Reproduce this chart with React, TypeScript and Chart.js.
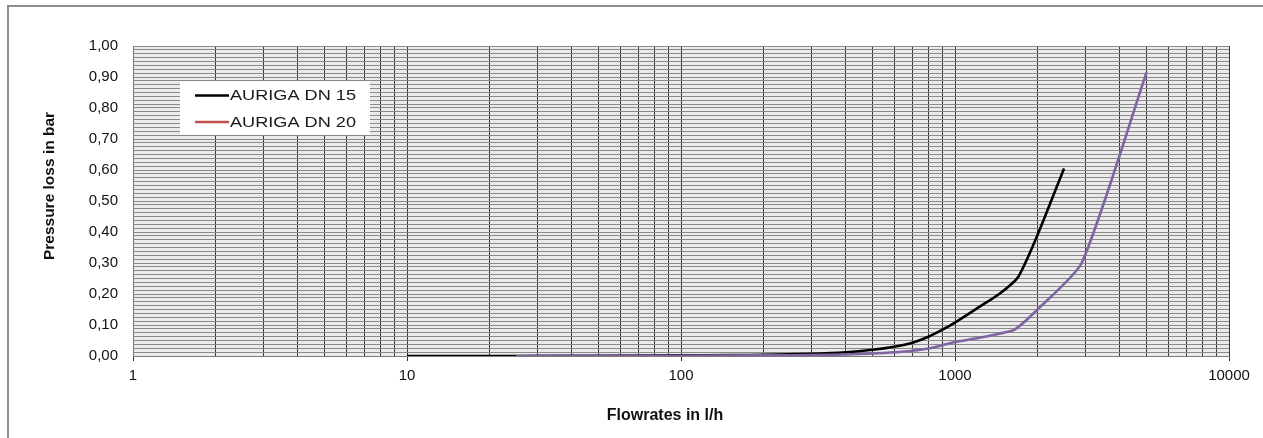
import React, { useEffect, useRef } from "react";
import { Chart, registerables } from "chart.js";

Chart.register(...registerables);

// ---- data ----
const seriesNames = ["AURIGA DN 15", "AURIGA DN 20"];

const dn15Flow = [10, 25, 50, 100, 150, 200, 300, 400, 500, 600, 700, 800, 900, 1000, 1200, 1450, 1700, 2000, 2500];
const dn15Loss = [0, 0, 0.001, 0.002, 0.003, 0.004, 0.007, 0.012, 0.02, 0.03, 0.043, 0.062, 0.085, 0.108, 0.153, 0.2, 0.255, 0.39, 0.605];

const dn20Flow = [25, 50, 100, 200, 300, 400, 500, 600, 700, 800, 900, 1000, 1200, 1450, 1650, 2000, 2900, 5000];
const dn20Loss = [0, 0, 0.001, 0.002, 0.003, 0.005, 0.008, 0.012, 0.017, 0.024, 0.035, 0.045, 0.057, 0.072, 0.085, 0.15, 0.3, 0.915];

const xGridValues = [
  1, 2, 3, 4, 5, 6, 7, 8, 9,
  10, 20, 30, 40, 50, 60, 70, 80, 90,
  100, 200, 300, 400, 500, 600, 700, 800, 900,
  1000, 2000, 3000, 4000, 5000, 6000, 7000, 8000, 9000,
  10000,
];
const xLabelValues = [1, 10, 100, 1000, 10000];
const xTickLabels = ["1", "10", "100", "1000", "10000"];

const yLabelValues = [0, 0.1, 0.2, 0.3, 0.4, 0.5, 0.6, 0.7, 0.8, 0.9, 1.0];
const yTickLabels = ["0,00", "0,10", "0,20", "0,30", "0,40", "0,50", "0,60", "0,70", "0,80", "0,90", "1,00"];
const yMinorStep = 0.0125;

const xTitle = "Flowrates in l/h";
const yTitle = "Pressure loss in bar";

const FONT = "'Liberation Sans', Arial, sans-serif";

function yGridValues(): number[] {
  const out: number[] = [];
  const n = Math.round(1 / yMinorStep);
  for (let i = 0; i <= n; i++) out.push(+(i * yMinorStep).toFixed(6));
  return out;
}

const decorPlugin = {
  id: "decor",
  beforeDraw(chart: any) {
    const { ctx, chartArea: a } = chart;
    ctx.save();
    ctx.fillStyle = "#ebebeb";
    ctx.fillRect(a.left, a.top, a.right - a.left, a.bottom - a.top);
    ctx.restore();
  },
  afterDraw(chart: any) {
    const { ctx } = chart;
    ctx.save();
    ctx.fillStyle = "#111";
    ctx.font = `bold 15.5px ${FONT}`;
    ctx.textAlign = "center";
    ctx.textBaseline = "middle";
    // y title
    ctx.save();
    ctx.translate(50, 186);
    ctx.rotate(-Math.PI / 2);
    ctx.fillText(yTitle, 0, 0);
    ctx.restore();
    // x title
    ctx.font = `bold 16px ${FONT}`;
    ctx.fillText(xTitle, 665, 416);

    // legend
    ctx.fillStyle = "#ffffff";
    ctx.fillRect(180, 81, 190, 54);
    const colors = ["#000000", "#c0504d"];
    const ys = [95.5, 122];
    for (let i = 0; i < seriesNames.length; i++) {
      ctx.strokeStyle = colors[i];
      ctx.lineWidth = 2.5;
      ctx.beginPath();
      ctx.moveTo(195, ys[i]);
      ctx.lineTo(229, ys[i]);
      ctx.stroke();
      ctx.save();
      ctx.translate(230, ys[i] + 0.5);
      ctx.scale(1.17, 1);
      ctx.fillStyle = "#1a1a1a";
      ctx.font = `15.5px ${FONT}`;
      ctx.textAlign = "left";
      ctx.textBaseline = "middle";
      ctx.fillText(seriesNames[i], 0, 0);
      ctx.restore();
    }
    ctx.restore();
  },
};

export default function App() {
  const ref = useRef<HTMLCanvasElement | null>(null);

  useEffect(() => {
    if (!ref.current) return;
    const chart = new Chart(ref.current, {
      type: "line",
      data: {
        datasets: [
          {
            label: seriesNames[1],
            data: dn20Flow.map((x, i) => ({ x, y: dn20Loss[i] })),
            borderColor: "#8064a2",
            borderWidth: 2.6,
            pointRadius: 0,
            tension: 0.2,
            fill: false,
          },
          {
            label: seriesNames[0],
            data: dn15Flow.map((x, i) => ({ x, y: dn15Loss[i] })),
            borderColor: "#000000",
            borderWidth: 2.6,
            pointRadius: 0,
            tension: 0.2,
            fill: false,
          },
        ],
      },
      options: {
        responsive: false,
        animation: false,
        devicePixelRatio: 1,
        layout: { padding: { left: 0, right: 34, top: 46, bottom: 0 } },
        plugins: { legend: { display: false }, tooltip: { enabled: false } },
        scales: {
          x: {
            type: "logarithmic",
            min: 1,
            max: 10000,
            afterBuildTicks: (s: any) => {
              s.ticks = xGridValues.map((v) => ({ value: v }));
            },
            afterFit: (s: any) => {
              s.height = 82;
            },
            ticks: {
              autoSkip: false,
              maxRotation: 0,
              minRotation: 0,
              padding: 6,
              color: "#111",
              font: { family: FONT, size: 15 },
              callback: (v: any) => {
                const k = xLabelValues.indexOf(Number(v));
                return k >= 0 ? xTickLabels[k] : "";
              },
            },
            grid: {
              color: "#383838",
              lineWidth: 1,
              tickLength: 5,
              tickColor: (c: any) =>
                xLabelValues.indexOf(c.tick ? c.tick.value : -1) >= 0 ? "#333" : "rgba(0,0,0,0)",
            },
            border: { color: "#7a7a7a", width: 1 },
          },
          y: {
            min: 0,
            max: 1,
            afterBuildTicks: (s: any) => {
              s.ticks = yGridValues().map((v) => ({ value: v }));
            },
            afterFit: (s: any) => {
              s.width = 133;
            },
            ticks: {
              autoSkip: false,
              padding: 15,
              color: "#111",
              font: { family: FONT, size: 15 },
              callback: (v: any) => {
                const k = yLabelValues.findIndex((t) => Math.abs(t - Number(v)) < 1e-6);
                return k >= 0 ? yTickLabels[k] : "";
              },
            },
            grid: { color: "#8a8a8a", lineWidth: 1, drawTicks: false },
            border: { color: "#7a7a7a", width: 1 },
          },
        },
      },
      plugins: [decorPlugin],
    } as any);
    return () => chart.destroy();
  }, []);

  return (
    <div style={{ position: "fixed", left: 0, top: 0, width: 1263, height: 438, background: "#fff", overflow: "hidden" }}>
      <canvas ref={ref} width={1263} height={438} style={{ position: "absolute", left: 0, top: 0, display: "block" }} />
      <div
        style={{
          position: "absolute",
          left: 7,
          top: 5,
          width: 1300,
          height: 500,
          border: "2px solid #8f8f8f",
          pointerEvents: "none",
        }}
      />
    </div>
  );
}
